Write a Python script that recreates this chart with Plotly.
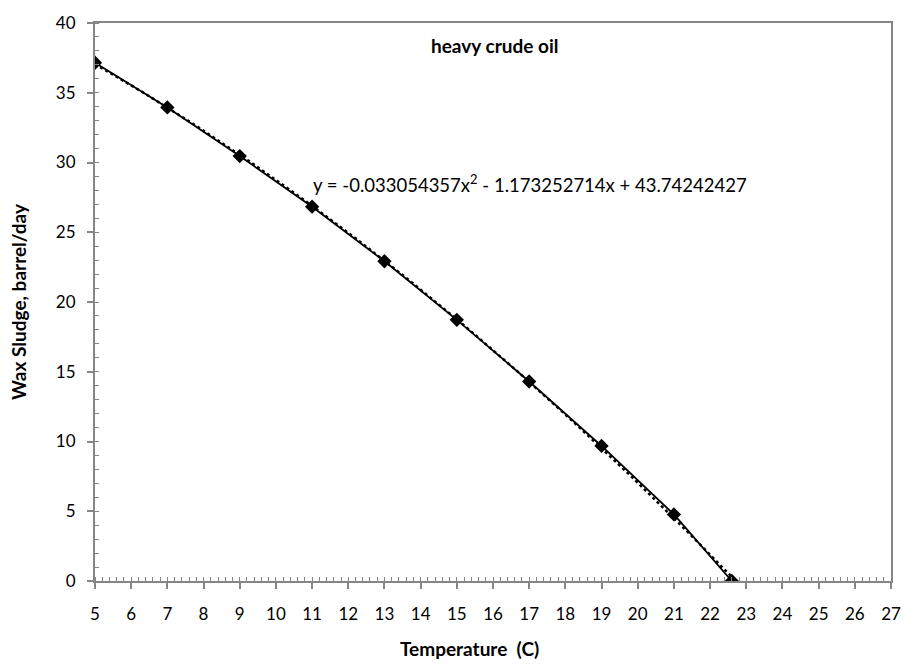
import numpy as np
import plotly.graph_objects as go

temperature = [5, 7, 9, 11, 13, 15, 17, 19, 21, 22.6]
wax_sludge = [37.15, 33.95, 30.46, 26.83, 22.92, 18.72, 14.3, 9.68, 4.77, 0.0]
x_ticks = list(range(5, 28))
y_ticks = list(range(0, 41, 5))
equation_text = "y = -0.033054357x<sup>2</sup> - 1.173252714x + 43.74242427"
title_text = "heavy crude oil"
x_title = "Temperature  (C)"
y_title = "Wax Sludge, barrel/day"

coef = np.polyfit(temperature, wax_sludge, 2)
x_fit = np.linspace(min(temperature), max(temperature), 200)
y_fit = np.polyval(coef, x_fit)

font_family = "Lato, 'Open Sans', sans-serif"

fig = go.Figure()
fig.add_trace(go.Scatter(x=x_fit, y=y_fit, mode="lines",
                         line=dict(color="black", width=2.5, dash="dot"),
                         showlegend=False, hoverinfo="skip"))
fig.add_trace(go.Scatter(x=temperature, y=wax_sludge, mode="lines+markers",
                         line=dict(color="black", width=1.8),
                         marker=dict(symbol="diamond", size=11, color="black"),
                         showlegend=False))

fig.add_annotation(x=10.97, y=28.5, xref="x", yref="y", text=equation_text,
                   showarrow=False, xanchor="left", yanchor="middle",
                   font=dict(family=font_family, size=18.5, color="black"))
fig.add_annotation(x=16.05, y=38.4, xref="x", yref="y", text="<b>" + title_text + "</b>",
                   showarrow=False, xanchor="center", yanchor="middle",
                   font=dict(family=font_family, size=19, color="black"))
fig.add_annotation(x=0.47, y=-0.121, xref="paper", yref="paper", text="<b>" + x_title + "</b>",
                   showarrow=False, xanchor="center", yanchor="middle",
                   font=dict(family=font_family, size=19, color="black"))

axis_common = dict(showline=True, linecolor="#868686", linewidth=2, mirror=True,
                   showgrid=False, zeroline=False,
                   ticks="outside", ticklen=6, tickwidth=1.5, tickcolor="#868686",
                   tickfont=dict(family=font_family, size=17, color="black"))

fig.update_xaxes(range=[5, 27], tickmode="array", tickvals=x_ticks,
                 ticktext=[str(v) for v in x_ticks], ticklabelstandoff=11,
                 minor=dict(ticks="inside", dtick=0.2, ticklen=4, tickwidth=1.2, tickcolor="#868686"),
                 **axis_common)
fig.update_yaxes(range=[0, 40], tickmode="array", tickvals=y_ticks,
                 ticktext=[str(v) for v in y_ticks], ticklabelstandoff=8,
                 minor=dict(ticks="inside", dtick=1, ticklen=4, tickwidth=1.2, tickcolor="#868686"),
                 title=dict(text="<b>" + y_title + "</b>", standoff=24,
                            font=dict(family=font_family, size=19, color="black")),
                 **axis_common)

fig.update_layout(width=913, height=669, margin=dict(l=95, r=13, t=18, b=88),
                  plot_bgcolor="white", paper_bgcolor="white")

fig.write_html("out.html")
